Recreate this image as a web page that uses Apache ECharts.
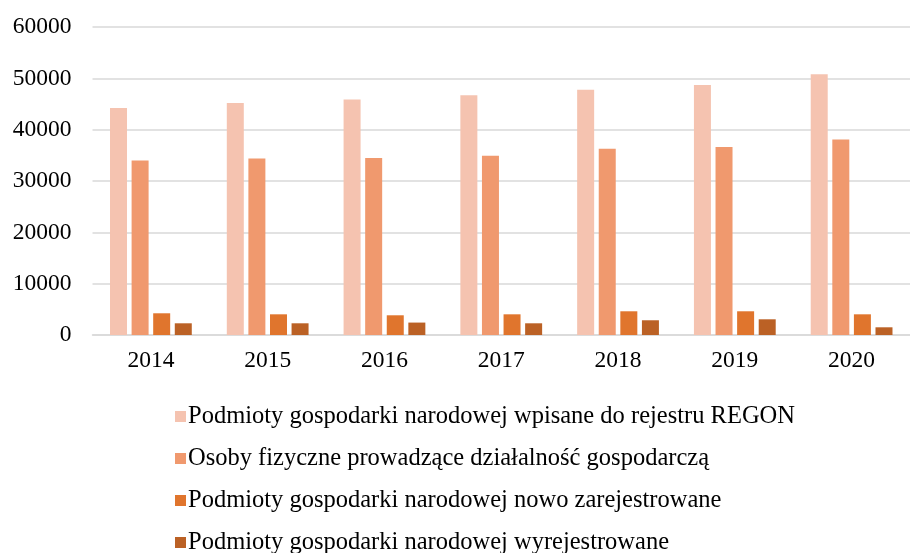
<!DOCTYPE html>
<html><head><meta charset="utf-8">
<script src="https://cdn.jsdelivr.net/npm/echarts@6/dist/echarts.min.js"></script>
<style>html,body{margin:0;padding:0;background:#fff}#c{width:910px;height:553px}</style>
</head><body><div id="c"></div>
<script>
var categories = ['2014','2015','2016','2017','2018','2019','2020'];
var seriesNames = [
  'Podmioty gospodarki narodowej wpisane do rejestru REGON',
  'Osoby fizyczne prowadzące działalność gospodarczą',
  'Podmioty gospodarki narodowej nowo zarejestrowane',
  'Podmioty gospodarki narodowej wyrejestrowane'
];
var regon = [44200, 45200, 45900, 46700, 47800, 48700, 50800];
var osoby = [34000, 34400, 34500, 34900, 36300, 36600, 38100];
var nowe = [4230, 4030, 3840, 4030, 4620, 4620, 4030];
var wyrej = [2280, 2280, 2420, 2280, 2870, 3060, 1500];
var colors = ['#F5C3B0', '#F0996E', '#E0752D', '#BB6125'];
var values = [regon, osoby, nowe, wyrej];

var font = '"Liberation Serif", "Times New Roman", serif';
var chart = echarts.init(document.getElementById('c'));
chart.setOption({
  animation: false,
  textStyle: {fontFamily: font},
  grid: {left: 92.5, right: -15.5, top: 27, bottom: 218, containLabel: false},
  xAxis: {
    type: 'category', data: categories,
    axisLine: {lineStyle: {color: '#d9d9d9', width: 1.5}},
    axisTick: {show: false},
    axisLabel: {color: '#000', fontSize: 23.5, fontFamily: font, margin: 14}
  },
  yAxis: {
    type: 'value', min: 0, max: 60000, interval: 10000,
    axisLine: {show: false}, axisTick: {show: false},
    splitLine: {lineStyle: {color: '#d9d9d9', width: 1.5}},
    axisLabel: {color: '#000', fontSize: 23.5, fontFamily: font, margin: 21,
      formatter: function(v){ return String(v); }}
  },
  legend: {
    orient: 'vertical', left: 170, top: 399, height: 200, itemGap: 17,
    itemWidth: 11, itemHeight: 11, icon: 'rect',
    textStyle: {color: '#000', fontSize: 24.5, fontFamily: font, padding: [0,0,0,-3]},
    data: seriesNames
  },
  series: seriesNames.map(function(n, i){
    return {name: n, type: 'bar', data: values[i], barWidth: 17, barGap: '27%',
      itemStyle: {color: colors[i]}};
  })
});
</script></body></html>
